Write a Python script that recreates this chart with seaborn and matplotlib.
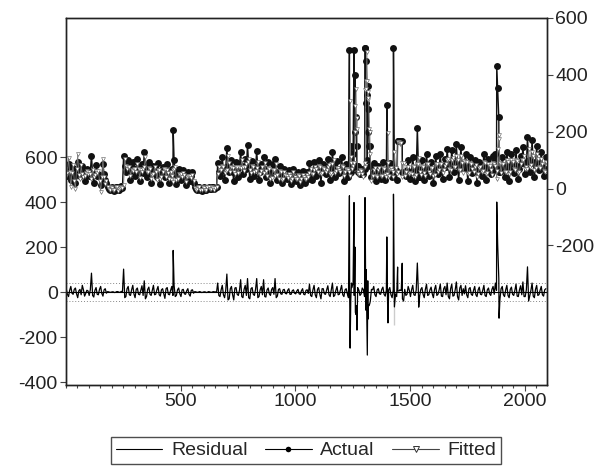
import numpy as np
import pandas as pd
import matplotlib
matplotlib.use("Agg")
import matplotlib.pyplot as plt
from matplotlib.lines import Line2D
from matplotlib.ticker import MultipleLocator
import seaborn as sns

# observations sampled every 10 obs (1, 11, ..., 2091) and in between (6, 16, ..., 2086)
grid_obs = np.arange(1, 2092, 10)
mid_obs = np.arange(6, 2087, 10)

# actual (right axis), 10 values per 100 obs
actual_grid = [
    60, 88, 30, 72, 18, 95, 45, 80, 25, 70,
    45, 116, 20, 82, 50, 12, 86, 30, 6, -5,
    4, -7, 6, -4, 8, 116, 60, 100, 30, 92,
    45, 105, 25, 88, 127, 40, 95, 20, 80, 50,
    90, 15, 75, 40, 85, 20, 70, 100, 15, 70,
    30, 65, 12, 60, 25, 58, 5, -4, 6, -7,
    4, -6, 7, -3, 5, 2, 90, 45, 110, 30,
    144, 60, 100, 25, 95, 40, 127, 50, 105, 155,
    35, 98, 45, 133, 30, 88, 110, 40, 92, 20,
    85, 104, 30, 78, 20, 70, 35, 65, 15, 68,
    25, 60, 12, 62, 20, 58, 90, 30, 95, 45,
    100, 20, 88, 50, 105, 30, 127, 40, 98, 55,
    110, 25, 85, 40, 60, 120, 200, 80, 50, 70,
    70, 330, 150, 40, 90, 25, 80, 35, 95, 30,
    60, 90, 40, 85, 30, 168, 168, 50, 45, 100,
    35, 110, 25, 214, 40, 100, 30, 122, 45, 95,
    20, 115, 50, 122, 35, 105, 140, 40, 134, 60,
    158, 30, 145, 70, 120, 25, 110, 55, 100, 20,
    95, 45, 122, 30, 105, 50, 115, 120, 354, 60,
    110, 40, 130, 25, 122, 55, 134, 35, 115, 146,
    50, 182, 60, 170, 40, 150, 65, 130, 45, 110,
]
actual_mid = [
    45, 65, 50, 40, 60, 55, 70, 50, 48, 55,
    60, 50, 55, 45, 40, 35, 50, 20, 0, 3,
    -3, 5, -5, 2, 3, 80, 85, 65, 75, 60,
    70, 60, 75, 55, 80, 70, 60, 55, 65, 40,
    55, 50, 60, 55, 45, 65, 50, 55, 45, 40,
    50, 40, 45, 35, 45, 20, -3, 4, -5, 3,
    -4, 3, -2, 5, -3, 4, 60, 75, 65, 70,
    80, 75, 60, 70, 65, 85, 80, 75, 70, 80,
    70, 65, 75, 70, 60, 65, 70, 55, 60, 50,
    55, 60, 45, 50, 45, 40, 45, 35, 40, 35,
    40, 35, 38, 30, 40, 35, 55, 60, 65, 70,
    65, 70, 60, 75, 70, 65, 80, 70, 60, 70,
    65, 70, 60, 55, 90, 75, 150, 60, 55, 50,
    300, 200, 80, 55, 60, 50, 65, 55, 60, 50,
    55, 60, 50, 65, 168, 168, 60, 55, 65, 60,
    60, 65, 55, 70, 60, 65, 55, 70, 60, 65,
    60, 70, 75, 70, 80, 75, 85, 80, 90, 85,
    80, 85, 75, 90, 80, 70, 75, 65, 70, 60,
    65, 70, 75, 65, 70, 60, 75, 70, 250, 70,
    75, 70, 80, 70, 85, 75, 80, 70, 90, 95,
    85, 100, 90, 95, 85, 90, 80, 75, 70,
]

# residual (left axis) at the same observations
resid_grid = [
    15, -20, 25, -10, 18, -25, 12, 30, -18, 8,
    -15, 84, -22, 20, -12, 25, -18, 15, 2, -1,
    1, -2, 2, -1, 3, 102, -20, 25, -15, 30,
    -25, 18, -12, 28, 50, -20, 22, -15, 30, -10,
    25, -18, 15, -28, 20, -12, 25, 30, -15, 18,
    -20, 12, -10, 15, -18, 10, 2, -1, 2, -2,
    1, -2, 2, -1, 2, 1, 40, -20, 30, -25,
    80, -30, 25, -35, 20, -15, 55, -25, 30, 60,
    -30, 20, -15, 60, -20, 25, 55, -22, 18, -15,
    20, 60, -18, 15, -10, 12, -8, 15, -10, 10,
    -8, 12, -10, 15, -12, 10, 35, -20, 30, -25,
    20, -30, 15, -10, 28, -20, 40, -15, 25, -10,
    30, -20, 15, -25, -30, 40, -90, 20, -15, 18,
    -20, -150, -60, 12, 25, -20, 15, -10, 22, -18,
    -30, 20, -25, 15, -20, 5, 8, -40, -15, 25,
    -20, 30, -15, 129, -18, 20, -25, 35, -12, 22,
    -25, 30, -10, 35, -20, 25, 40, -30, 35, -15,
    45, -35, 30, 15, 28, -25, 20, -15, 25, -20,
    22, -12, 30, -20, 18, -15, 25, 40, 214, -30,
    25, -20, 30, -25, 22, -15, 35, -20, 28, 45,
    -20, 112, -15, 40, -25, 30, -12, 25, -18, 15,
]
resid_mid = [
    -10, 8, -5, 12, -8, 6, -12, 10, -6, 5,
    10, -15, 8, -10, 12, -6, 10, -5, 1, -1,
    1, -1, 2, -1, 1, -25, 15, -12, 10, -8,
    12, -10, 8, -15, -30, 12, -10, 8, -12, 10,
    -12, 10, -8, 15, -10, 8, -15, -20, 10, -8,
    10, -8, 6, -10, 8, -5, 1, -1, 1, -1,
    1, -1, 1, -1, 1, -1, -15, 10, -12, 8,
    -35, 15, -12, 18, -10, 8, -20, 12, -15, -25,
    15, -10, 12, -25, 10, -12, -20, 10, -8, 12,
    -10, -25, 12, -8, 10, -6, 8, -10, 6, -5,
    5, -8, 6, -10, 8, -6, -15, 10, -12, 12,
    -10, 15, -8, 10, -12, 10, -20, 8, -12, 10,
    -12, 10, -8, 12, 20, -15, -60, 10, -8, 10,
    -80, -120, -40, 10, -12, 10, -8, 12, -10, 8,
    10, -12, 10, -8, 5, 8, -30, 12, -10, 8,
    10, -12, 8, -15, 12, -10, 12, -15, 10, -8,
    12, -15, 10, -18, 15, -12, -20, 15, -18, 10,
    -20, 18, -15, -8, -12, 15, -10, 8, -12, 10,
    -10, 8, -15, 10, -8, 12, -10, 8, 60, 15,
    -12, 10, -15, 12, -10, 8, -18, 10, -12, -20,
    10, -40, 8, -18, 12, -15, 8, -12, 10,
]

# outliers between the sampled observations
spike_obs = [467, 1235, 1238, 1244, 1255, 1259, 1264, 1268, 1274, 1303, 1305,
             1308, 1313, 1315, 1318, 1324, 1398, 1403, 1427, 1431, 1445, 1455,
             1465, 1537, 1877, 1887]
spike_actual = [207, 488, 60, 150, 488, 399, 250, 80, 60, 495, 495,
                450, 100, 360, 280, 150, 295, 60, 495, 40, 168, 168,
                168, 40, 432, 60]
spike_resid = [185, 428, -249, 40, 398, 200, -100, -169, 10, 420, 150,
               100, -280, 50, -60, -50, 245, -137, 435, -147, 111, 10,
               128, -67, 400, -116]

resid_se = 40  # +/- 1 S.E. band

df = pd.DataFrame({
    "obs": np.concatenate([grid_obs, mid_obs, spike_obs]),
    "actual": np.concatenate([actual_grid, actual_mid, spike_actual]),
    "resid": np.concatenate([resid_grid, resid_mid, spike_resid]),
}).sort_values("obs")
df["fitted"] = df["actual"] - df["resid"]

sns.set_style("ticks")
plt.rcParams["font.family"] = ["Liberation Sans", "DejaVu Sans"]
plt.rcParams["axes.unicode_minus"] = False

fig = plt.figure(figsize=(6.08, 4.67), dpi=100)
ax = fig.add_axes([66 / 608, 1 - 385 / 467, 481 / 608, 367 / 467])
ax2 = ax.twinx()

# residual on the left axis
ax.axhline(0, color="black", lw=0.8)
ax.axhline(resid_se, color="#888888", lw=0.7, ls=(0, (1, 2)))
ax.axhline(-resid_se, color="#888888", lw=0.7, ls=(0, (1, 2)))
sns.lineplot(data=df, x="obs", y="resid", ax=ax, color="black", lw=0.9,
             legend=False)

# actual and fitted on the right axis
sns.lineplot(data=df, x="obs", y="actual", ax=ax2, color="#111111", lw=1.0,
             marker="o", markersize=5, markeredgewidth=0, legend=False)
sns.lineplot(data=df, x="obs", y="fitted", ax=ax2, color="#777777", lw=0.6,
             marker="v", markersize=2.8, markerfacecolor="white",
             markeredgecolor="#555555", markeredgewidth=0.4, legend=False)

ax.set_xlim(0, 2096)
ax.set_ylim(-413, 1218)
ax2.set_ylim(-691, 600)
ax.set_yticks([-400, -200, 0, 200, 400, 600])
ax2.set_yticks([-200, 0, 200, 400, 600])
ax.set_xticks([500, 1000, 1500, 2000])
ax.xaxis.set_minor_locator(MultipleLocator(50))
ax.set_xlabel("")
ax.set_ylabel("")
ax2.set_ylabel("")

for a in (ax, ax2):
    for s in a.spines.values():
        s.set_visible(True)
        s.set_color("#222222")
        s.set_linewidth(1.0)
    a.tick_params(axis="both", which="major", labelsize=14, length=4,
                  width=0.8, color="#444444", labelcolor="#222222", pad=2)
ax.tick_params(axis="x", which="minor", length=2.5, width=0.8, color="#444444")

handles = [
    Line2D([], [], color="black", lw=0.8),
    Line2D([], [], color="black", lw=0.8, marker="o", markersize=4,
           markeredgewidth=0),
    Line2D([], [], color="#444444", lw=0.8, marker="v", markersize=5,
           markerfacecolor="white", markeredgecolor="#333333",
           markeredgewidth=0.7),
]
leg = fig.legend(handles, ["Residual", "Actual", "Fitted"], ncol=3,
                 loc="upper center", bbox_to_anchor=(306 / 608, 1 - 437 / 467),
                 fontsize=14, frameon=True, fancybox=False, handlelength=2.4,
                 handletextpad=0.45, columnspacing=0.9, borderpad=0.25,
                 borderaxespad=0)
leg.get_frame().set_edgecolor("#222222")
leg.get_frame().set_linewidth(1.0)

fig.savefig("out.png", dpi=100)
